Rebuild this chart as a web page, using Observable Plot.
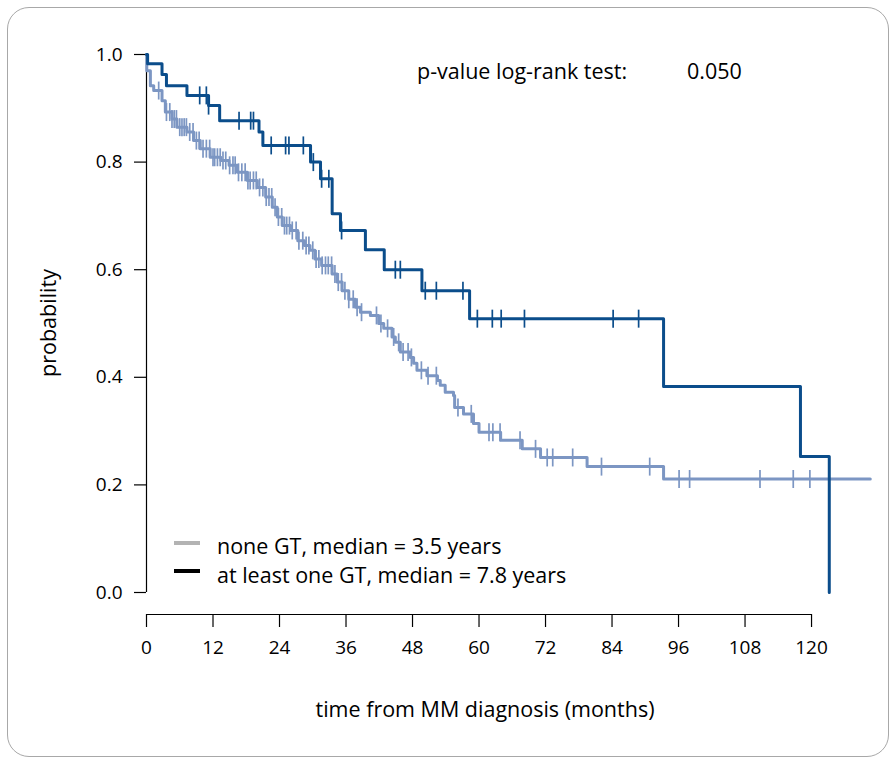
<!DOCTYPE html>
<html>
<head>
<meta charset="utf-8">
<script src="https://cdn.jsdelivr.net/npm/d3@7"></script>
<script src="https://cdn.jsdelivr.net/npm/@observablehq/plot@0.6"></script>
<style>
  html, body { margin: 0; padding: 0; background: #fff; }
  #wrap { position: relative; width: 896px; height: 760px; overflow: hidden; font-family: "Open Sans", "Noto Sans", sans-serif; color: #000; }
  #frame { position: absolute; left: 7px; top: 7px; width: 880px; height: 748px; border: 1.5px solid #a8a8a8; border-radius: 22px; }
  #chart { position: absolute; left: 0; top: 0; }
  #chart svg g[aria-label$="tick label"], #chart svg g[aria-label$="tick label"] text { font-size: 19px !important; }
  .lbl { position: absolute; font-size: 21.5px; white-space: nowrap; line-height: 1; }
  .leg { position: absolute; width: 26px; height: 4px; }
</style>
</head>
<body>
<div id="wrap">
  <div id="frame"></div>
  <div id="chart"></div>
</div>
<script>
// ---- data ----
// "none GT" group: Kaplan-Meier step points (time in months, survival)
const noneTimes = [0, 0.05, 0.7, 1.3, 2.8, 3.4, 4.6, 5.5, 7.3, 8.5, 9.7, 11.5, 13.4, 14.9, 16.4, 18.2, 20.0, 21.5, 22.7, 23.6, 24.5, 26.0, 27.3, 28.5, 29.5, 30.4, 31.6, 33.5, 34.4, 35.3, 36.5, 37.7, 38.6, 40.4, 41.9, 42.8, 44.3, 44.9, 45.8, 47.6, 48.2, 48.8, 50.6, 52.5, 53.0, 53.9, 55.4, 55.6, 57.2, 59.0, 60.0, 63.9, 67.8, 71.1, 79.5, 93.3, 130.6];
const noneSurv  = [1.0, 0.970, 0.942, 0.933, 0.914, 0.893, 0.880, 0.865, 0.856, 0.840, 0.825, 0.809, 0.803, 0.794, 0.781, 0.766, 0.753, 0.735, 0.716, 0.698, 0.682, 0.673, 0.654, 0.645, 0.636, 0.620, 0.608, 0.592, 0.577, 0.561, 0.545, 0.530, 0.521, 0.515, 0.500, 0.491, 0.475, 0.465, 0.447, 0.437, 0.426, 0.413, 0.403, 0.394, 0.385, 0.372, 0.366, 0.344, 0.332, 0.314, 0.298, 0.283, 0.267, 0.251, 0.234, 0.211, 0.211];
const noneCensor = [2.2, 3.6, 4.2, 4.6, 5.0, 5.4, 6.0, 6.4, 6.8, 7.2, 7.8, 8.4, 9.0, 9.5, 10.2, 10.8, 11.4, 12.0, 12.3, 12.8, 13.3, 13.8, 14.3, 15.0, 15.6, 16.0, 16.6, 17.2, 17.8, 18.3, 18.7, 19.3, 19.8, 20.4, 21.0, 21.6, 22.1, 22.6, 23.2, 23.8, 24.4, 24.9, 25.3, 25.8, 26.3, 27.0, 27.5, 28.2, 28.8, 29.3, 30.0, 30.6, 31.1, 31.7, 32.3, 32.8, 33.4, 34.0, 34.6, 35.2, 35.8, 36.5, 37.3, 38.0, 38.8, 41.5, 42.3, 43.5, 44.6, 45.5, 46.3, 47.2, 47.8, 49.6, 50.8, 52.3, 56.2, 58.6, 61.8, 62.5, 63.8, 67.4, 70.2, 72.3, 73.3, 76.9, 82.1, 90.8, 96.1, 98.0, 110.7, 116.7, 119.7];

// "at least one GT" group
const gtTimes = [0, 0.2, 2.8, 3.6, 7.3, 11.2, 13.2, 20.3, 21.0, 29.6, 31.4, 33.5, 35.0, 39.5, 42.9, 49.7, 58.3, 93.3, 118.0, 123.2];
const gtSurv  = [1.0, 0.983, 0.963, 0.942, 0.924, 0.905, 0.877, 0.856, 0.831, 0.800, 0.769, 0.704, 0.673, 0.637, 0.600, 0.561, 0.509, 0.383, 0.253, 0.0];
const gtCensor = [9.6, 10.8, 11.2, 16.7, 18.8, 19.3, 22.5, 25.1, 25.7, 28.3, 30.1, 31.6, 32.9, 35.2, 44.9, 45.8, 50.3, 52.3, 57.1, 59.7, 62.4, 64.0, 68.2, 84.2, 88.8];

const xTicks = [0, 12, 24, 36, 48, 60, 72, 84, 96, 108, 120];
const yTicks = [0, 0.2, 0.4, 0.6, 0.8, 1.0];

const labels = {
  x: "time from MM diagnosis (months)",
  y: "probability",
  test: "p-value log-rank test:",
  pval: "0.050",
  legNone: "none GT, median = 3.5 years",
  legGT: "at least one GT, median = 7.8 years"
};

const colNone = "#7c96c3";
const colGT = "#0b4d8b";

// ---- build tables ----
const curve = (ts, ss) => ts.map((t, i) => ({t, s: ss[i]}));
const stepAt = (ts, ss) => (t) => { let v = ss[0]; for (let i = 0; i < ts.length; i++) { if (ts[i] <= t) v = ss[i]; else break; } return v; };
const noneCurve = curve(noneTimes, noneSurv);
const gtCurve = curve(gtTimes, gtSurv);
const fNone = stepAt(noneTimes, noneSurv);
const fGT = stepAt(gtTimes, gtSurv);
const noneMarks = noneCensor.map(t => ({t, s: fNone(t)}));
const gtMarks = gtCensor.map(t => ({t, s: fGT(t)}));

const vbar = { draw(ctx) { ctx.moveTo(0, -9); ctx.lineTo(0, 9); } };

const yMin = -0.0409;
const plot = Plot.plot({
  width: 896,
  height: 760,
  marginLeft: 146,
  marginRight: 24,
  marginTop: 54,
  marginBottom: 146,
  style: { fontFamily: "'Open Sans', 'Noto Sans', sans-serif", background: "transparent", color: "#000" },
  x: { domain: [0, 131] },
  y: { domain: [yMin, 1] },
  marks: [
    Plot.ruleX([0], { y1: 0, y2: 1, stroke: "#000", strokeWidth: 1.2 }),
    Plot.ruleY([yMin], { x1: 0, x2: 120, stroke: "#000", strokeWidth: 1.2 }),
    Plot.axisY({ ticks: yTicks, tickSize: 12, tickPadding: 12, tickFormat: d3.format(".1f"), fontSize: 19, label: null, strokeWidth: 1.2 }),
    Plot.axisX({ ticks: xTicks, tickSize: 13, tickPadding: 13, tickFormat: d => String(d), fontSize: 19, label: null, strokeWidth: 1.2 }),
    Plot.line(noneCurve, { x: "t", y: "s", curve: "step-after", stroke: colNone, strokeWidth: 3 }),
    Plot.dot(noneMarks, { x: "t", y: "s", symbol: vbar, stroke: colNone, strokeWidth: 1.7, fill: "none" }),
    Plot.line(gtCurve, { x: "t", y: "s", curve: "step-after", stroke: colGT, strokeWidth: 3 }),
    Plot.dot(gtMarks, { x: "t", y: "s", symbol: vbar, stroke: colGT, strokeWidth: 1.7, fill: "none" })
  ]
});
document.getElementById("chart").appendChild(plot);

// ---- text and legend overlays ----
const wrap = document.getElementById("wrap");
function addText(txt, left, top, extra) {
  const d = document.createElement("div");
  d.className = "lbl";
  d.textContent = txt;
  d.style.left = left + "px";
  d.style.top = top + "px";
  if (extra) Object.assign(d.style, extra);
  wrap.appendChild(d);
  return d;
}
addText(labels.test, 417, 60);
addText(labels.pval, 687, 60);
addText(labels.x, 485, 698, { transform: "translateX(-50%)" });
addText(labels.y, 48, 323, { transform: "translate(-50%, -50%) rotate(-90deg)" });
addText(labels.legNone, 217, 535);
addText(labels.legGT, 217, 564);
function addLeg(color, top) {
  const d = document.createElement("div");
  d.className = "leg";
  d.style.left = "174px";
  d.style.top = top + "px";
  d.style.background = color;
  wrap.appendChild(d);
}
addLeg("#b3b3b3", 541);
addLeg("#000", 569);
</script>
</body>
</html>
